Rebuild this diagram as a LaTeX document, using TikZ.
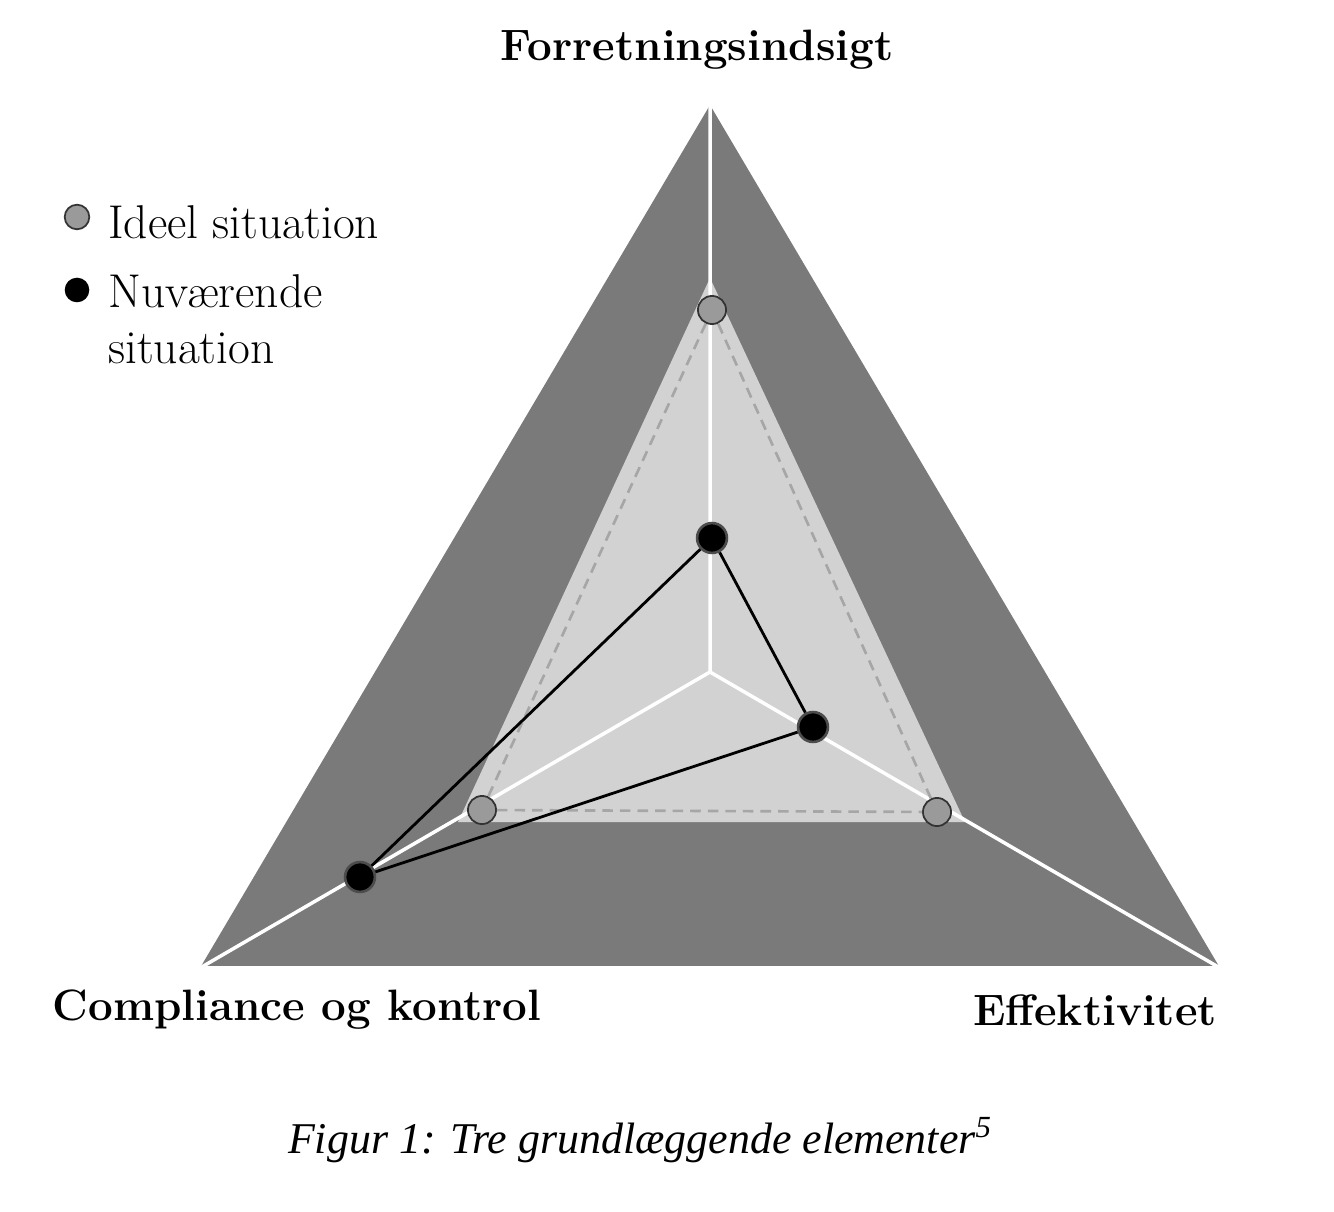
\documentclass[tikz,border=0pt]{standalone}
\usepackage{fontspec}
\newfontfamily\capfont{Liberation Serif}
\definecolor{outer}{HTML}{7A7A7A}
\definecolor{inner}{HTML}{D2D2D2}
\definecolor{idl}{HTML}{9A9A9A}
\begin{document}
\begin{tikzpicture}[x=0.02cm,y=-0.02cm,
 lbl/.style={font=\fontsize{25}{28}\selectfont\bfseries},
 leg/.style={font=\fontsize{27}{32}\selectfont,anchor=west,align=left},
 ideal/.style={circle,fill=idl,draw=gray!40!black,line width=1pt,minimum size=16pt,inner sep=0pt},
 cur/.style={circle,fill=black,draw=gray!60!black,line width=1.5pt,minimum size=17pt,inner sep=0pt}]
\useasboundingbox (0,0) rectangle (1334,1212);
\fill[outer] (710,105) -- (200,968) -- (1220,968) -- cycle;
\fill[inner] (710,278) -- (458,822) -- (965,822) -- cycle;
\coordinate (c) at (710,672);
\draw[white,line width=2pt] (c) -- (710,105) (c) -- (200,968) (c) -- (1220,968);
\draw[white,line width=2pt] (200,968) -- (1220,968);
\node[ideal] (i1) at (712,310) {};
\node[ideal] (i2) at (482,810) {};
\node[ideal] (i3) at (937,812) {};
\draw[gray!70,line width=1.5pt,dash pattern=on 6pt off 4pt] (i1) -- (i2) -- (i3) -- (i1);
\node[cur] (n1) at (712,538) {};
\node[cur] (n2) at (813,727) {};
\node[cur] (n3) at (360,877) {};
\draw[black,line width=1.6pt] (n1) -- (n2) -- (n3) -- (n1);
\node[lbl] (t1) at (697,50) {Forretningsindsigt};
\node[lbl] (t2) at (297,1010) {Compliance og kontrol};
\node[lbl] (t3) at (1095,1010) {Effektivitet};
\node[ideal,minimum size=14pt] (l1) at (77,217) {};
\node[leg] (lt1) at (102,222) {Ideel situation};
\node[circle,fill=black,minimum size=14pt,inner sep=0pt] (l2) at (77,290) {};
\node[leg,anchor=north west] (lt2) at (102,268) {Nuværende\\situation};
\node[font=\capfont\itshape\fontsize{25}{30}\selectfont] (cap) at (640,1140) {Figur 1: Tre grundlæggende elementer\textsuperscript{5}};
\end{tikzpicture}
\end{document}
